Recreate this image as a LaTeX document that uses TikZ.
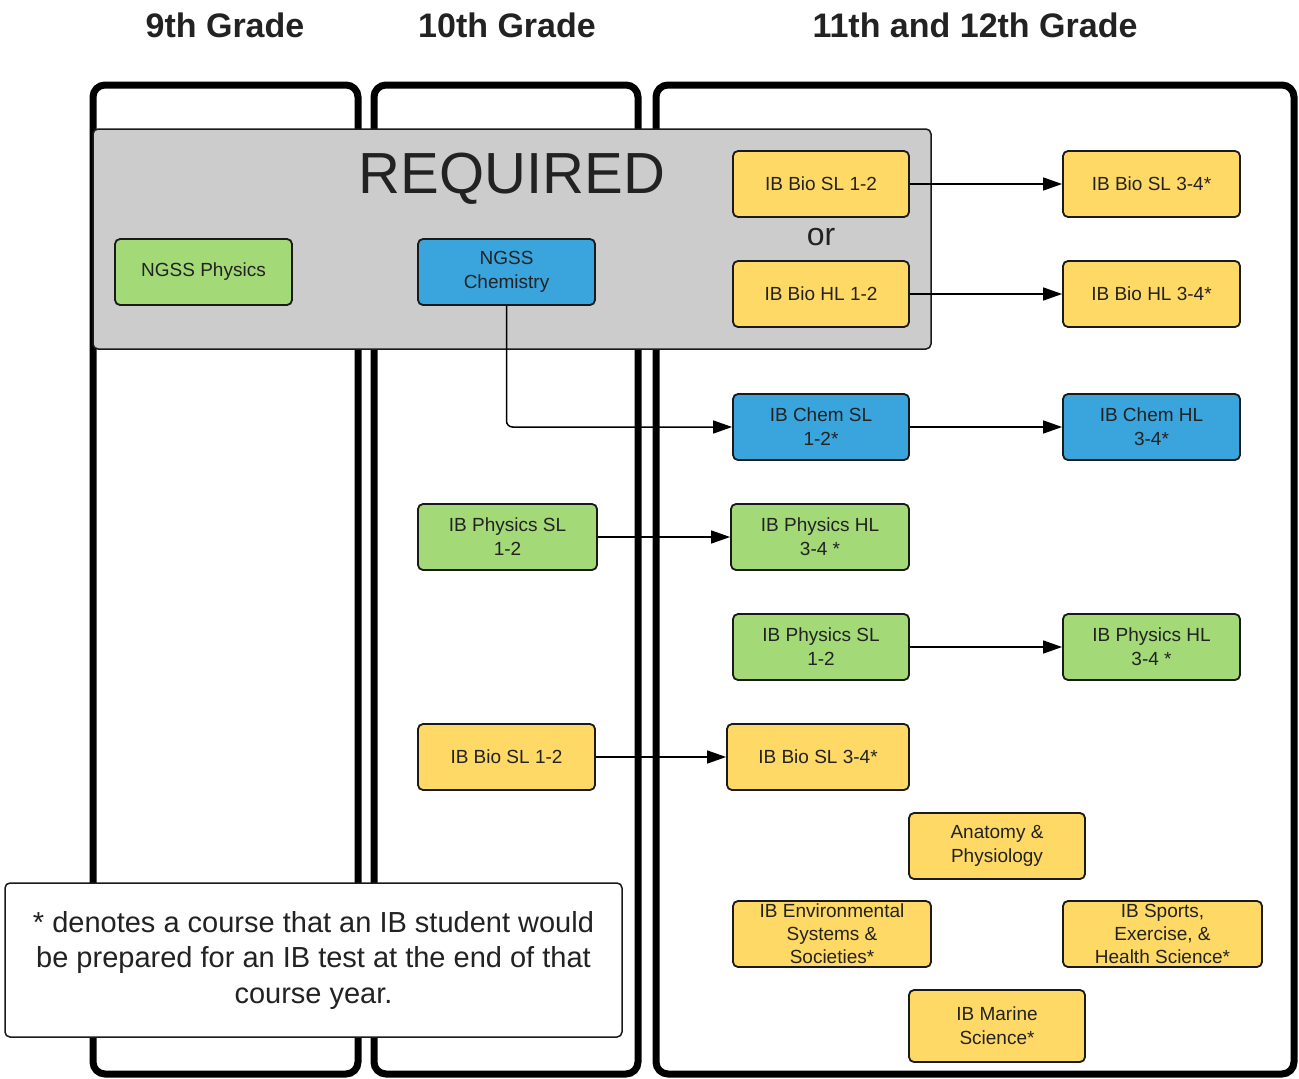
\documentclass[tikz,border=0pt]{standalone}
\usepackage{fontspec}
\setmainfont{Liberation Sans}
\usetikzlibrary{arrows.meta}
\definecolor{cgreen}{RGB}{163,217,119}
\definecolor{cyellow}{RGB}{255,217,102}
\definecolor{cblue}{RGB}{58,164,221}
\definecolor{cgray}{RGB}{204,204,204}
\definecolor{cline}{RGB}{26,26,26}
\definecolor{ctext}{RGB}{34,34,34}
\tikzset{
  col/.style={draw=black, line width=7pt, rounded corners=12pt},
  course/.style={draw=cline, line width=1.8pt, rounded corners=5pt, align=center,
    inner sep=0pt, text=ctext, minimum height=66pt,
    font=\fontsize{19}{24}\selectfont},
  gbox/.style={course, fill=cgreen},
  ybox/.style={course, fill=cyellow},
  bbox/.style={course, fill=cblue},
  conn/.style={draw=black, line width=1.5pt, -{Triangle[length=19pt,width=13pt]}},
  header/.style={font=\fontsize{34}{40}\selectfont\bfseries, text=ctext, inner sep=0pt},
}
\begin{document}
\begin{tikzpicture}[x=1pt,y=-1pt]
\useasboundingbox[fill=white] (0,0) rectangle (1299,1079);
% headers
\node[header] (h9) at (225,25) {9th Grade};
\node[header] (h10) at (507,25) {10th Grade};
\node[header] (h11) at (975,25) {11th and 12th Grade};
% columns
\draw[col] (93,85) rectangle (358,1074);
\draw[col] (374,85) rectangle (638,1074);
\draw[col] (656,85) rectangle (1294,1074);
% required box
\node[draw=cline, line width=1.5pt, fill=cgray, rounded corners=5pt, minimum width=838pt, minimum height=220pt, inner sep=0pt] (req) at (512,239) {};
\node[font=\fontsize{58}{60}\selectfont, text=ctext, inner sep=0pt] (reqt) at (512,179) {REQUIRED};
\node[font=\fontsize{32}{34}\selectfont, text=ctext, inner sep=0pt] (or) at (821,237) {or};
% courses
\node[gbox, minimum width=177pt] (ngssphys) at (203.5,272) {NGSS Physics};
\node[bbox, minimum width=177pt] (ngsschem) at (506.5,272) {NGSS\\Chemistry};
\node[ybox, minimum width=176pt] (biosl12) at (821,184) {IB Bio SL 1-2};
\node[ybox, minimum width=176pt] (biohl12) at (821,294) {IB Bio HL 1-2};
\node[ybox, minimum width=177pt] (biosl34) at (1151.5,184) {IB Bio SL 3-4*};
\node[ybox, minimum width=177pt] (biohl34) at (1151.5,294) {IB Bio HL 3-4*};
\node[bbox, minimum width=176pt] (chemsl) at (821,427) {IB Chem SL\\1-2*};
\node[bbox, minimum width=177pt] (chemhl) at (1151.5,427) {IB Chem HL\\3-4*};
\node[gbox, minimum width=179pt] (physsl2) at (507.5,537) {IB Physics SL\\1-2};
\node[gbox, minimum width=178pt] (physhl3) at (820,537) {IB Physics HL\\3-4 *};
\node[gbox, minimum width=176pt] (physsl3) at (821,647) {IB Physics SL\\1-2};
\node[gbox, minimum width=177pt] (physhl4) at (1151.5,647) {IB Physics HL\\3-4 *};
\node[ybox, minimum width=177pt] (biosl2) at (506.5,757) {IB Bio SL 1-2};
\node[ybox, minimum width=182pt] (biosl3) at (818,757) {IB Bio SL 3-4*};
\node[ybox, minimum width=176pt] (anat) at (997,846) {Anatomy \&\\Physiology};
\node[ybox, minimum width=198pt, font=\fontsize{19}{23}\selectfont] (env) at (832,934) {IB Environmental\\Systems \&\\Societies*};
\node[ybox, minimum width=199pt, font=\fontsize{19}{23}\selectfont] (sports) at (1162.5,934) {IB Sports,\\Exercise, \&\\Health Science*};
\node[ybox, minimum width=176pt, minimum height=72pt] (marine) at (997,1026) {IB Marine\\Science*};
% connectors
\draw[conn] (biosl12) -- (biosl34);
\draw[conn] (biohl12) -- (biohl34);
\draw[conn, rounded corners=6pt] (ngsschem.south) |- (chemsl.west);
\draw[conn] (chemsl) -- (chemhl);
\draw[conn] (physsl2) -- (physhl3);
\draw[conn] (physsl3) -- (physhl4);
\draw[conn] (biosl2) -- (biosl3);
% legend
\node[draw=cline, line width=1.5pt, fill=white, rounded corners=5pt, minimum width=617pt, minimum height=154pt, inner sep=0pt, align=center, text=ctext, font=\fontsize{29}{35.5}\selectfont] (legend) at (313.5,960) {* denotes a course that an IB student would\\be prepared for an IB test at the end of that\\course year.};
\end{tikzpicture}
\end{document}
